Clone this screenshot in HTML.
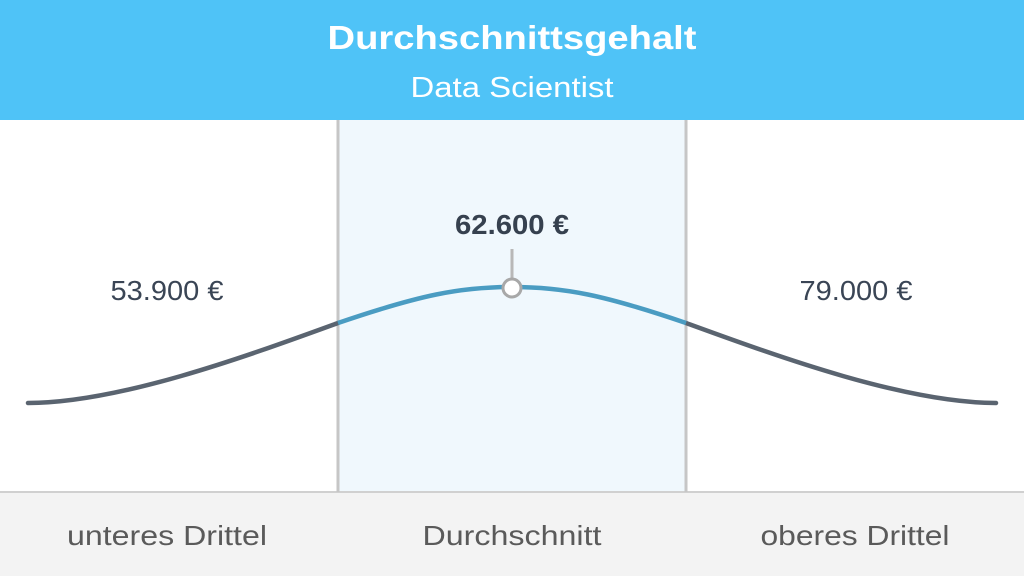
<!DOCTYPE html>
<html><head><meta charset="utf-8"><style>
html,body{margin:0;padding:0;width:1024px;height:576px;overflow:hidden;background:#fff;font-family:"Liberation Sans","DejaVu Sans",sans-serif}
</style></head><body>
<svg width="1024" height="576" viewBox="0 0 1024 576" xmlns="http://www.w3.org/2000/svg">
<rect x="0" y="0" width="1024" height="120" fill="#4fc3f7"/>
<text x="512" y="49" text-anchor="middle" fill="#fff" font-size="33" font-weight="bold" font-family="Liberation Sans, sans-serif" textLength="369" lengthAdjust="spacingAndGlyphs">Durchschnittsgehalt</text>
<text x="512" y="97" text-anchor="middle" fill="#fff" font-size="29" font-family="Liberation Sans, sans-serif" textLength="203" lengthAdjust="spacingAndGlyphs">Data Scientist</text>
<rect x="337" y="120" width="350" height="372" fill="#f0f8fd"/>
<rect x="0" y="492" width="1024" height="84" fill="#f3f3f3"/>
<line x1="0" y1="492" x2="1024" y2="492" stroke="#d0d0d0" stroke-width="2"/>
<line x1="338" y1="120" x2="338" y2="492" stroke="#c6c6c6" stroke-width="3"/>
<line x1="686" y1="120" x2="686" y2="492" stroke="#c6c6c6" stroke-width="3"/>
<path d="M28 403 C120 403 250 355 338 323" fill="none" stroke="#5a6470" stroke-width="4.5" stroke-linecap="round"/>
<path d="M686 323 C774 355 904 403 996 403" fill="none" stroke="#5a6470" stroke-width="4.5" stroke-linecap="round"/>
<path d="M338 323 C420 295 460 287 512 287 C564 287 604 295 686 323" fill="none" stroke="#4a9cc2" stroke-width="4.5"/>
<line x1="512" y1="249" x2="512" y2="279" stroke="#b8b8b8" stroke-width="3"/>
<circle cx="512" cy="288" r="9" fill="#fff" stroke="#a8a8a8" stroke-width="3"/>
<text x="512" y="234" text-anchor="middle" fill="#36414f" font-size="28" font-weight="bold" font-family="Liberation Sans, sans-serif" textLength="114" lengthAdjust="spacingAndGlyphs">62.600 €</text>
<text x="167" y="300" text-anchor="middle" fill="#3a4555" font-size="28" font-family="Liberation Sans, sans-serif" textLength="113" lengthAdjust="spacingAndGlyphs">53.900 €</text>
<text x="856" y="300" text-anchor="middle" fill="#3a4555" font-size="28" font-family="Liberation Sans, sans-serif" textLength="113" lengthAdjust="spacingAndGlyphs">79.000 €</text>
<text x="167" y="545" text-anchor="middle" fill="#5a5a5a" font-size="28" font-family="Liberation Sans, sans-serif" textLength="200" lengthAdjust="spacingAndGlyphs">unteres Drittel</text>
<text x="512" y="545" text-anchor="middle" fill="#5a5a5a" font-size="28" font-family="Liberation Sans, sans-serif" textLength="179" lengthAdjust="spacingAndGlyphs">Durchschnitt</text>
<text x="855" y="545" text-anchor="middle" fill="#5a5a5a" font-size="28" font-family="Liberation Sans, sans-serif" textLength="189" lengthAdjust="spacingAndGlyphs">oberes Drittel</text>
</svg>
</body></html>
